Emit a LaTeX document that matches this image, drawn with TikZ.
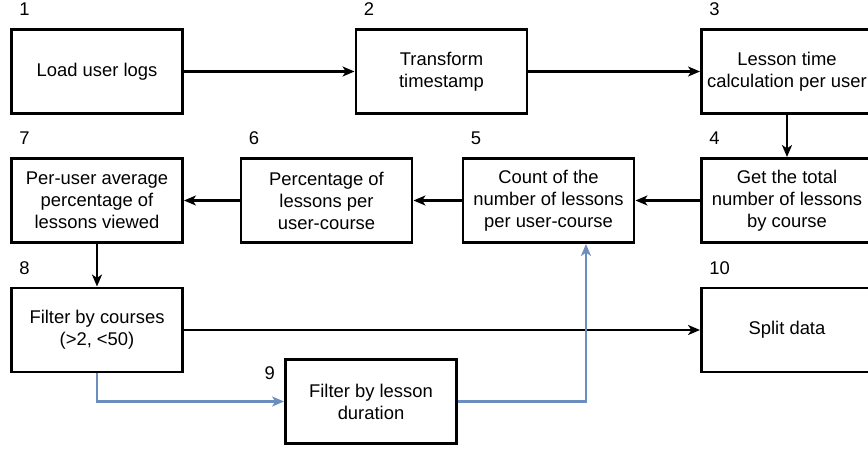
\documentclass[tikz,border=0pt]{standalone}
\usepackage{fontspec}
\setmainfont{Liberation Sans}
\usetikzlibrary{arrows.meta,calc}
\definecolor{flowblue}{HTML}{6C8EBF}
\begin{document}
\begin{tikzpicture}[x=0.75pt,y=-0.75pt,
  txt/.style={font=\fontsize{13.8}{16.5}\selectfont},
  box/.style={txt, draw, line width=2.2pt, minimum width=128.25pt, minimum height=63pt,
    align=center, inner sep=0pt},
  num/.style={txt, anchor=base west, inner sep=0pt},
  arr/.style={line width=1.7pt, -{Stealth[length=9pt,width=7.5pt,inset=2.5pt]}},
  barr/.style={arr, color=flowblue}]
\useasboundingbox (0,0) rectangle (868,451);

% process steps
\node[box] (b1) at (97,71.5) {Load user logs};
\node[box] (b2) at (441.5,71.5) {Transform\\timestamp};
\node[box] (b3) at (787,71.5) {Lesson time\\calculation per user};
\node[box] (b4) at (787,200.5) {Get the total\\number of lessons\\by course};
\node[box] (b5) at (548.5,200.5) {Count of the\\number of lessons\\per user-course};
\node[box] (b6) at (326.5,200.5) {Percentage of\\lessons per\\user-course};
\node[box] (b7) at (97,200.5) {Per-user average\\percentage of\\lessons viewed};
\node[box] (b8) at (97,330) {Filter by courses\\(>2, <50)};
\node[box] (b9) at (371,401.5) {Filter by lesson\\duration};
\node[box] (b10) at (787,330) {Split data};

% step numbers
\foreach \n in {1,...,8,10}
  \node[num] (n\n) at ($(b\n.north west)+(9,-12.5)$) {\n};
\node[txt, anchor=base east, inner sep=0pt] (n9) at ($(b9.north west)+(-9,21)$) {9};

% main flow
\draw[arr] (b1) -- (b2);
\draw[arr] (b2) -- (b3);
\draw[arr] (b3) -- (b4);
\draw[arr] (b4) -- (b5);
\draw[arr] (b5) -- (b6);
\draw[arr] (b6) -- (b7);
\draw[arr] (b7) -- (b8);
\draw[arr] (b8) -- (b10);

% optional filtering loop
\draw[barr] (b8.south) |- (b9.west);
\draw[barr] (b9.east) -| ([xshift=28.1pt]b5.south);
\end{tikzpicture}
\end{document}
